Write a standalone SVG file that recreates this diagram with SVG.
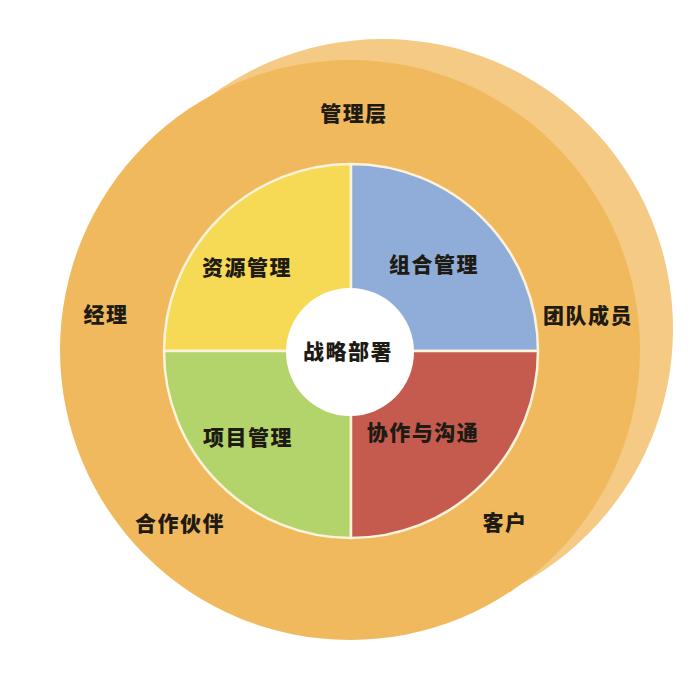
<svg xmlns="http://www.w3.org/2000/svg" width="700" height="700" viewBox="0 0 700 700">
  <style>
    .lbl { font-family: "Noto Sans CJK SC", "Noto Sans", sans-serif; font-size: 21px; font-weight: 900; fill: #1e1b14; text-anchor: middle; letter-spacing: 1.5px; }
    .q { stroke: #fbf3dc; stroke-width: 2.5; stroke-linejoin: round; }
  </style>
  <rect width="700" height="700" fill="#ffffff"/>
  <g id="outer-ring">
    <circle cx="383" cy="329" r="290" fill="#f4ca85"/>
    <circle cx="350" cy="350" r="290" fill="#f1b95d"/>
    <text class="lbl" x="354" y="121">管理层</text>
    <text class="lbl" x="106" y="322">经理</text>
    <text class="lbl" x="588" y="323">团队成员</text>
    <text class="lbl" x="180" y="531">合作伙伴</text>
    <text class="lbl" x="505" y="530">客户</text>
  </g>
  <g id="q-resource">
    <path class="q" d="M351,351 L164,351 A187,187 0 0 1 351,164 Z" fill="#f6da55"/>
    <text class="lbl" x="247" y="275">资源管理</text>
  </g>
  <g id="q-portfolio">
    <path class="q" d="M351,351 L351,164 A187,187 0 0 1 538,351 Z" fill="#8fadd8"/>
    <text class="lbl" x="434" y="272">组合管理</text>
  </g>
  <g id="q-project">
    <path class="q" d="M351,351 L351,538 A187,187 0 0 1 164,351 Z" fill="#b3d46a"/>
    <text class="lbl" x="248" y="445">项目管理</text>
  </g>
  <g id="q-collab">
    <path class="q" d="M351,351 L538,351 A187,187 0 0 1 351,538 Z" fill="#c55b4f"/>
    <text class="lbl" x="423" y="440">协作与沟通</text>
  </g>
  <g id="center">
    <circle cx="350" cy="352" r="64" fill="#ffffff"/>
    <text class="lbl" x="348" y="359">战略部署</text>
  </g>
</svg>
